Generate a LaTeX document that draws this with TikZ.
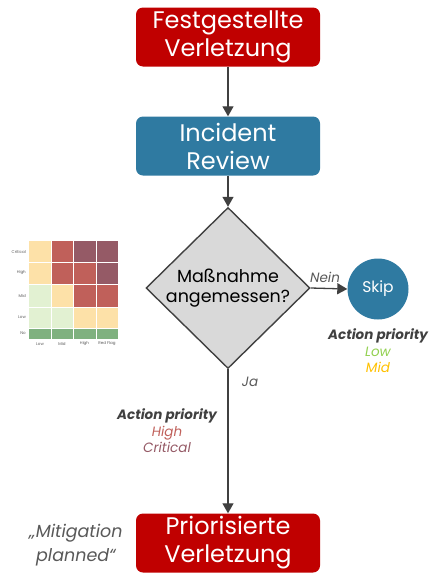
\documentclass[tikz,border=0pt]{standalone}
\usepackage{fontspec}
\setmainfont{Poppins}
\usetikzlibrary{arrows.meta,shapes.geometric,positioning}

\definecolor{boxred}{HTML}{C00000}
\definecolor{boxblue}{HTML}{2F7AA1}
\definecolor{diagray}{HTML}{D9D9D9}
\definecolor{linegray}{HTML}{404040}
\definecolor{textgray}{HTML}{595959}
\definecolor{lowgreen}{HTML}{92D050}
\definecolor{midamber}{HTML}{FFC000}
\definecolor{highred}{HTML}{C0605A}
\definecolor{critmauve}{HTML}{955A66}
\definecolor{hmorange}{HTML}{FDE1A8}
\definecolor{hmlight}{HTML}{E2F1D2}
\definecolor{hmgreen}{HTML}{7FB17F}

\begin{document}
\begin{tikzpicture}[x=1pt,y=-1pt,
  stepbox/.style={rectangle, rounded corners=7pt, minimum width=184pt, minimum height=59pt,
    inner sep=0pt, align=center, text=white, font=\fontsize{24}{28}\selectfont},
  decision/.style={diamond, draw=linegray, line width=1.4pt, fill=diagray,
    minimum width=164pt, minimum height=161pt, inner sep=0pt},
  flow/.style={draw=linegray, line width=1.3pt, -{Triangle[length=10pt,width=11pt]}},
  note/.style={align=center, text=textgray, font=\fontsize{13.5}{16}\selectfont\itshape},
  prio/.style={align=center, font=\fontsize{13.5}{16.5}\selectfont\itshape},
  hmlabel/.style={text=textgray, font=\fontsize{4}{5}\selectfont, inner sep=0pt}]
\useasboundingbox (0,0) rectangle (429,573);

% flow
\node[stepbox, fill=boxred] (found) at (228,37) {Festgestellte\\Verletzung};
\node[stepbox, fill=boxblue] (review) at (228,146) {Incident\\Review};
\node[decision] (check) at (228,288) {};
\node[align=center, font=\fontsize{17.5}{20}\selectfont] (checktext) at (check) {Maßnahme\\angemessen?};
\node[circle, fill=boxblue, minimum size=61pt, inner sep=0pt, text=white,
  font=\fontsize{15.5}{18}\selectfont] (skip) at (378,289) {Skip};
\node[stepbox, fill=boxred] (prioritised) at (228,543) {Priorisierte\\Verletzung};

\draw[flow] (found) -- (review);
\draw[flow] (review) -- (check.north);
\draw[flow] (check.east) -- (skip.west);
\draw[flow] (check.south) -- (prioritised);

% labels
\node[note] (nein) at (325,277) {Nein};
\node[note] (ja) at (250,382) {Ja};
\node[prio] (skipprio) at (378,351) {\textbf{\color{linegray}Action priority}\\\color{lowgreen}Low\\\color{midamber}Mid};
\node[prio] (mainprio) at (167,431) {\textbf{\color{linegray}Action priority}\\\color{highred}High\\\color{critmauve}Critical};
\node[align=center, text=textgray, font=\fontsize{17.5}{24}\selectfont\itshape] (planned) at (76,545) {„Mitigation\\planned“};

% heat map
\foreach \row/\ya/\yb/\ca/\cb/\cc/\cd in {
  Critical/241/262/hmorange/highred/critmauve/critmauve,
  High/262/284/hmorange/highred/highred/critmauve,
  Mid/284/307/hmlight/hmorange/highred/highred,
  Low/307/328/hmlight/hmlight/hmorange/hmorange,
  No/328/339/hmgreen/hmgreen/hmgreen/hmgreen} {
  \fill[\ca] (29,\ya) rectangle (51,\yb);
  \fill[\cb] (51,\ya) rectangle (73,\yb);
  \fill[\cc] (73,\ya) rectangle (96,\yb);
  \fill[\cd] (96,\ya) rectangle (118,\yb);
  \node[hmlabel, anchor=east] at (26,{(\ya+\yb)/2}) {\row};
}
\foreach \x in {51,73,96} \draw[white, line width=0.8pt] (\x,241) -- (\x,339);
\foreach \y in {262,284,307,328} \draw[white, line width=0.8pt] (29,\y) -- (118,\y);
\node[hmlabel] at (40,344) {Low};
\node[hmlabel] at (62,344) {Mid};
\node[hmlabel] at (84.5,344) {High};
\node[hmlabel] at (107,344) {Red Flag};
\end{tikzpicture}
\end{document}
